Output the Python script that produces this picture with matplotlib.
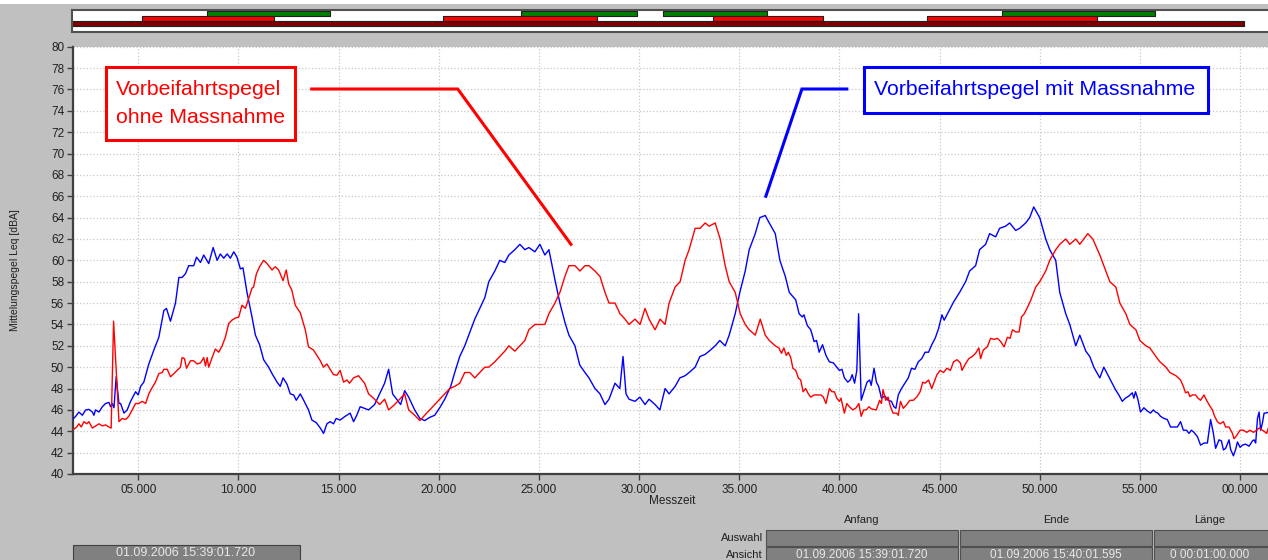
import numpy as np
import matplotlib.pyplot as plt
from matplotlib.patches import Rectangle

plt.rcParams['font.family'] = ['Liberation Sans', 'DejaVu Sans']

# Messzeit in Sekunden ab 15:39:00 und Pegel in dBA
t_mit = [1.72, 1.88, 2.04, 2.21, 2.38, 2.54, 2.71, 2.79, 2.87, 3.04, 3.21, 3.37, 3.54, 3.62, 3.70, 3.79,
         3.90, 4.04, 4.12, 4.29, 4.45, 4.62, 4.87, 5.00, 5.12, 5.28, 5.53, 5.78, 6.03, 6.28, 6.41, 6.61,
         6.86, 7.03, 7.19, 7.36, 7.52, 7.77, 7.91, 8.11, 8.27, 8.52, 8.74, 8.94, 9.10, 9.27, 9.44, 9.60,
         9.77, 9.93, 10.10, 10.23, 10.43, 10.68, 10.85, 11.06, 11.26, 11.51, 11.68, 11.93, 12.09, 12.23,
         12.43, 12.59, 12.76, 12.89, 13.09, 13.26, 13.50, 13.67, 13.89, 14.09, 14.25, 14.42, 14.58, 14.75,
         14.88, 15.08, 15.33, 15.58, 15.75, 15.91, 16.08, 16.5, 16.8, 17.05, 17.3, 17.5, 17.7, 17.9, 18.1,
         18.3, 18.5, 18.8, 19.06, 19.3, 19.55, 19.8, 20.05, 20.3, 20.6, 20.8, 21.05, 21.3, 21.6, 21.8,
         22.05, 22.3, 22.5, 22.8, 23.05, 23.3, 23.5, 23.8, 24.05, 24.3, 24.5, 24.8, 25.05, 25.3, 25.5,
         25.8, 26.05, 26.3, 26.5, 26.8, 27.04, 27.3, 27.5, 27.8, 28.05, 28.3, 28.5, 28.8, 29.04, 29.2,
         29.35, 29.5, 29.8, 30.04, 30.3, 30.5, 30.8, 31.04, 31.3, 31.5, 31.8, 32.04, 32.3, 32.5, 32.8,
         33.04, 33.3, 33.5, 33.8, 34.03, 34.3, 34.5, 34.8, 35.03, 35.3, 35.5, 35.8, 36.03, 36.3, 36.5,
         36.8, 37.03, 37.3, 37.5, 37.82, 37.99, 38.15, 38.23, 38.40, 38.57, 38.74, 38.86, 38.99, 39.16,
         39.33, 39.50, 39.70, 39.87, 40.00, 40.13, 40.25, 40.42, 40.54, 40.64, 40.76, 40.87, 40.96, 41.09,
         41.26, 41.38, 41.51, 41.59, 41.73, 41.85, 41.96, 42.10, 42.27, 42.43, 42.60, 42.72, 42.82, 42.94,
         43.10, 43.27, 43.44, 43.60, 43.77, 43.94, 44.11, 44.28, 44.45, 44.61, 44.78, 44.95, 45.12, 45.23,
         45.37, 45.54, 45.70, 46.0, 46.3, 46.5, 46.8, 47.0, 47.3, 47.5, 47.8, 48.0, 48.3, 48.5, 48.8,
         49.0, 49.3, 49.5, 49.7, 50.0, 50.3, 50.5, 50.8, 51.0, 51.3, 51.5, 51.8, 52.0, 52.3, 52.5, 52.7,
         53.0, 53.2, 53.53, 53.78, 53.95, 54.12, 54.28, 54.45, 54.62, 54.70, 54.78, 54.90, 55.03, 55.20,
         55.37, 55.53, 55.67, 55.78, 55.90, 56.03, 56.20, 56.37, 56.53, 56.70, 56.87, 57.03, 57.17, 57.33,
         57.45, 57.57, 57.70, 57.87, 58.03, 58.20, 58.37, 58.53, 58.67, 58.78, 58.95, 59.07, 59.17, 59.28,
         59.45, 59.53, 59.67, 59.78, 59.87, 60.00, 60.12, 60.28, 60.45, 60.62, 60.70, 60.78, 60.87, 60.95,
         61.03, 61.12, 61.20, 61.28, 61.43, 61.6]
pegel_mit = [45.1, 45.4, 45.8, 45.5, 46.0, 46.05, 45.8, 45.5, 46.0, 45.8, 46.3, 46.6, 46.7, 46.3, 46.6, 46.2,
             49.1, 46.6, 46.6, 45.7, 46.0, 46.8, 47.7, 47.4, 48.2, 48.6, 50.3, 51.6, 52.8, 55.3, 55.5, 54.3,
             56.0, 58.4, 58.4, 58.75, 59.5, 59.5, 60.3, 59.8, 60.5, 59.7, 61.2, 60.0, 60.6, 60.2, 60.6, 60.2,
             60.8, 60.3, 59.2, 59.3, 57.0, 54.7, 53.0, 52.1, 50.7, 50.0, 49.4, 48.6, 48.2, 49.0,
             48.4, 47.5, 47.4, 46.9, 47.5, 46.9, 46.0, 45.05, 44.8, 44.3, 43.8, 44.7, 44.9, 44.7,
             45.2, 45.05, 45.4, 45.7, 44.9, 45.5, 46.3, 46.0, 46.5, 47.5, 48.5, 49.8, 47.5, 47.0, 46.5,
             47.8, 47.2, 46.0, 45.2, 45.0, 45.3, 45.5, 46.2, 47.0, 48.2, 49.5, 51.0, 52.0, 53.5, 54.5,
             55.5, 56.5, 58.0, 59.0, 60.0, 59.8, 60.5, 61.0, 61.5, 61.0, 61.2, 60.8, 61.5, 60.5, 61.0,
             58.2, 56.0, 54.2, 53.0, 52.0, 50.2, 49.5, 49.0, 48.0, 47.5, 46.5, 47.0, 48.5, 48.0, 51.0,
             47.5, 47.0, 46.8, 47.2, 46.5, 47.0, 46.5, 46.0, 48.0, 47.5, 48.2, 49.0, 49.2, 49.5, 50.0,
             51.0, 51.2, 51.5, 52.0, 52.5, 52.0, 53.0, 55.0, 57.0, 59.0, 61.0, 62.5, 64.0, 64.2, 63.5,
             62.5, 60.0, 58.5, 57.0, 56.3, 55.0, 54.7, 54.9, 53.9, 53.5, 52.4, 52.5, 51.4, 52.1,
             51.1, 50.5, 50.4, 50.0, 49.7, 49.8, 49.0, 48.6, 48.8, 49.3, 48.5, 49.7, 55.0, 46.9,
             47.9, 48.6, 48.8, 48.3, 49.9, 48.6, 48.2, 47.1, 47.3, 46.9, 46.8, 46.3, 46.15, 47.4,
             48.0, 48.5, 49.0, 49.9, 49.8, 50.5, 50.8, 51.4, 51.4, 52.1, 52.7, 53.6, 54.9, 54.4,
             54.9, 55.5, 56.1, 57.0, 58.0, 59.0, 59.5, 61.0, 61.5, 62.5, 62.2, 63.0, 63.2, 63.5, 62.8,
             63.0, 63.5, 64.0, 65.0, 64.0, 62.0, 61.0, 60.0, 57.0, 55.0, 54.0, 52.0, 53.0, 51.5, 51.0, 50.0,
             49.0, 50.0, 48.8, 47.9, 47.4, 46.8, 47.1, 47.3, 47.6, 47.1, 47.7, 47.0, 45.8, 46.2,
             45.9, 45.7, 46.0, 45.8, 45.7, 45.4, 45.2, 45.1, 44.4, 44.4, 44.4, 44.9, 44.1, 44.1,
             43.8, 44.1, 43.9, 43.5, 42.7, 42.9, 42.9, 45.1, 43.8, 42.4, 43.2, 43.1, 42.25, 42.4,
             43.2, 42.3, 41.7, 42.3, 43.0, 42.5, 42.7, 42.8, 42.6, 43.1, 43.2, 42.9, 45.2, 45.8,
             44.1, 44.8, 45.7, 45.7, 45.8, 45.8]

t_ohne = [1.72, 1.93, 2.04, 2.16, 2.29, 2.43, 2.54, 2.71, 2.87, 3.04, 3.21, 3.37, 3.54, 3.65, 3.77, 4.04,
          4.20, 4.37, 4.53, 4.70, 4.87, 5.03, 5.20, 5.37, 5.53, 5.70, 5.86, 6.03, 6.20, 6.28, 6.45, 6.61,
          6.78, 6.94, 7.11, 7.19, 7.31, 7.41, 7.61, 7.77, 7.94, 8.11, 8.27, 8.36, 8.44, 8.52, 8.69, 8.85,
          9.02, 9.19, 9.35, 9.52, 9.68, 9.85, 10.02, 10.18, 10.35, 10.51, 10.68, 10.76, 10.90, 11.06, 11.26,
          11.43, 11.68, 11.84, 12.01, 12.23, 12.39, 12.51, 12.67, 12.84, 13.09, 13.34, 13.50, 13.75, 13.92,
          14.09, 14.25, 14.42, 14.58, 14.75, 14.92, 15.08, 15.25, 15.42, 15.55, 15.75, 16.0, 16.08, 16.3,
          16.5, 16.8, 17.05, 17.3, 17.5, 17.8, 18.05, 18.3, 18.5, 18.8, 19.06, 19.3, 19.55, 19.8, 20.05,
          20.3, 20.55, 20.8, 21.05, 21.3, 21.55, 21.8, 22.05, 22.3, 22.5, 22.8, 23.05, 23.3, 23.5, 23.8,
          24.05, 24.3, 24.5, 24.8, 25.05, 25.3, 25.5, 25.8, 26.05, 26.3, 26.5, 26.8, 27.05, 27.3, 27.5,
          27.8, 28.05, 28.3, 28.5, 28.8, 29.05, 29.3, 29.5, 29.8, 30.05, 30.3, 30.5, 30.8, 31.05, 31.3,
          31.5, 31.8, 32.05, 32.3, 32.5, 32.8, 33.05, 33.3, 33.5, 33.8, 34.05, 34.3, 34.5, 34.8, 35.05,
          35.3, 35.5, 35.8, 36.05, 36.3, 36.5, 36.8, 36.98, 37.11, 37.23, 37.35, 37.45, 37.57, 37.68, 37.82,
          37.95, 38.07, 38.19, 38.32, 38.45, 38.57, 38.74, 38.91, 39.08, 39.20, 39.33, 39.50, 39.63, 39.75,
          39.87, 40.00, 40.08, 40.25, 40.37, 40.50, 40.67, 40.84, 40.97, 41.09, 41.21, 41.34, 41.48, 41.59,
          41.84, 42.01, 42.10, 42.18, 42.31, 42.43, 42.55, 42.68, 42.85, 42.94, 43.05, 43.19, 43.36, 43.52,
          43.69, 43.86, 44.03, 44.16, 44.28, 44.45, 44.61, 44.73, 44.87, 45.03, 45.20, 45.37, 45.54, 45.70,
          45.87, 46.04, 46.12, 46.29, 46.46, 46.63, 46.80, 46.96, 47.05, 47.18, 47.38, 47.55, 47.72, 47.89,
          48.05, 48.22, 48.39, 48.52, 48.64, 48.81, 48.97, 49.09, 49.23, 49.40, 49.56, 49.8, 50.0, 50.3,
          50.5, 50.8, 51.0, 51.3, 51.5, 51.8, 52.0, 52.4, 52.65, 53.0, 53.2, 53.5, 53.8, 54.0, 54.3, 54.5,
          54.8, 55.0, 55.3, 55.5, 55.8, 56.0, 56.3, 56.5, 56.8, 57.03, 57.17, 57.28, 57.40, 57.50, 57.62,
          57.78, 57.90, 58.03, 58.20, 58.33, 58.45, 58.62, 58.73, 58.87, 59.00, 59.17, 59.28, 59.45, 59.62,
          59.70, 59.83, 60.00, 60.17, 60.33, 60.50, 60.67, 60.83, 60.95, 61.12, 61.20, 61.33, 61.43, 61.6]
pegel_ohne = [44.1, 44.4, 44.7, 44.4, 44.9, 44.7, 44.9, 44.3, 44.5, 44.7, 44.5, 44.6, 44.4, 44.3, 54.3, 44.9,
              45.2, 45.1, 45.4, 46.0, 46.6, 46.6, 46.8, 46.6, 47.5, 48.1, 48.6, 49.4, 49.5, 49.8, 49.8, 49.1,
              49.4, 49.7, 50.0, 50.9, 50.8, 49.9, 50.6, 50.6, 50.3, 50.4, 50.9, 50.1, 50.9, 50.0, 50.9, 51.7,
              51.4, 52.0, 52.8, 54.1, 54.4, 54.6, 54.7, 55.8, 55.5, 56.4, 57.4, 57.5, 58.75, 59.4, 60.0,
              59.7, 59.1, 59.4, 59.1, 58.1, 59.1, 57.8, 57.2, 55.8, 55.1, 53.5, 51.9, 51.6, 51.1,
              50.6, 50.0, 50.3, 49.8, 49.3, 49.25, 49.7, 48.6, 48.8, 48.5, 49.0, 49.2, 49.0, 48.5,
              47.5, 47.0, 46.5, 47.0, 46.0, 46.5, 47.0, 47.5, 46.0, 45.5, 45.0, 45.5, 46.0, 46.5, 47.0,
              47.5, 48.0, 48.2, 48.5, 49.5, 49.5, 49.0, 49.5, 50.0, 50.0, 50.5, 51.0, 51.5, 52.0, 51.5,
              52.0, 52.5, 53.5, 54.0, 54.0, 54.0, 55.0, 56.0, 57.0, 58.5, 59.5, 59.5, 59.0, 59.5, 59.5,
              59.0, 58.5, 57.0, 56.0, 56.0, 55.0, 54.5, 54.0, 54.5, 54.0, 55.5, 54.5, 53.5, 54.5, 54.0,
              56.0, 57.5, 58.0, 60.0, 61.0, 63.0, 63.0, 63.5, 63.2, 63.5, 62.0, 59.5, 58.0, 57.0, 55.0,
              54.0, 53.5, 53.0, 54.5, 53.0, 52.5, 52.0, 51.8, 51.3, 51.8, 51.1, 51.4, 50.9, 49.9, 49.7,
              49.0, 48.8, 47.7, 48.0, 47.5, 47.2, 47.4, 47.4, 47.4, 47.2, 46.6, 48.0, 47.7, 47.7,
              47.1, 46.8, 47.1, 45.7, 46.6, 46.3, 46.0, 46.2, 46.6, 45.4, 46.0, 46.0, 46.3, 46.1,
              46.0, 46.9, 46.6, 47.9, 46.9, 47.2, 46.3, 45.7, 45.7, 45.5, 46.8, 46.15, 46.5, 46.9,
              46.9, 47.2, 47.7, 48.6, 48.5, 48.8, 48.0, 48.6, 49.3, 49.7, 49.5, 49.9, 49.7, 50.5,
              50.7, 50.4, 49.7, 50.3, 50.8, 51.0, 51.3, 51.8, 50.8, 51.6, 51.9, 52.7, 52.6, 52.7,
              52.4, 51.9, 52.8, 52.7, 53.5, 53.3, 53.3, 54.7, 55.0, 55.65, 56.3, 57.5, 58.0, 59.0,
              60.0, 61.0, 61.5, 62.0, 61.5, 62.0, 61.5, 62.5, 62.0, 60.5, 59.5, 58.0, 57.5, 56.0, 55.0, 54.0,
              53.5, 52.5, 52.0, 51.8, 51.0, 50.5, 50.0, 49.5, 49.2, 48.8, 48.2, 47.6, 47.7, 47.25, 47.4,
              47.4, 47.1, 46.9, 47.4, 46.9, 46.5, 46.0, 45.4, 44.9, 44.7, 44.9, 44.4, 44.4, 43.8,
              43.3, 43.6, 44.1, 44.1, 43.9, 44.1, 43.9, 44.1, 44.3, 44.1, 44.0, 43.8, 44.4, 44.6]

# Zeitbalken oben (Start, Ende) in Sekunden
balken_gruen = [(8.47, 14.6), (24.1, 29.9), (31.2, 36.4), (48.1, 55.75)]
balken_rot = [(5.23, 11.8), (20.25, 27.9), (33.7, 39.2), (44.4, 52.85)]
balken_dunkelrot = [(1.72, 60.2)]

xtick_pos = [5, 10, 15, 20, 25, 30, 35, 40, 45, 50, 55, 60]
xtick_labels = ['%02d.000' % (s % 60) for s in xtick_pos]
ytick_pos = list(range(40, 81, 2))

t_start, t_end = 1.72, 61.595

W, H = 1268, 560
fig = plt.figure(figsize=(W / 100, H / 100), dpi=100, facecolor='#c0c0c0')


def fx(px):
    return px / W


def fy(py):
    return 1 - py / H


fig.patches.append(Rectangle((0, fy(4)), 1, 4 / H, transform=fig.transFigure,
                             facecolor='white', edgecolor='none'))

# Hauptdiagramm
ax = fig.add_axes([fx(72.5), fy(474), fx(1272 - 72.5), (474 - 46.7) / H])
ax.set_facecolor('white')
ax.plot(t_mit, pegel_mit, color='#0000ff', lw=1.0, zorder=3)
ax.plot(t_ohne, pegel_ohne, color='#ff0000', lw=1.0, zorder=3)
ax.set_xlim(t_start, t_end)
ax.set_ylim(40, 80)
ax.set_yticks(ytick_pos)
ax.set_xticks(xtick_pos)
ax.set_xticklabels(xtick_labels)
ax.grid(True, color='#c8c8c8', linestyle=':', lw=0.9, zorder=0)
ax.tick_params(labelsize=8.5, length=4, width=1, color='#404040', labelcolor='#202020', pad=2)
ax.tick_params(axis='x', pad=3)
for side in ['left', 'bottom']:
    ax.spines[side].set_color('#404040')
    ax.spines[side].set_linewidth(1.6)
ax.spines['top'].set_visible(False)
ax.spines['right'].set_visible(False)

# Beschriftungen mit Rahmen
ax.add_patch(Rectangle((3.38, 71.3), 12.82 - 3.38, 78.1 - 71.3, facecolor='white',
                       edgecolor='#ff0000', lw=2.2, zorder=5))
ax.text(3.88, 76.0, 'Vorbeifahrtspegel', color='#ff0000', fontsize=15.3,
        ha='left', va='center', zorder=6)
ax.text(3.88, 73.4, 'ohne Massnahme', color='#ff0000', fontsize=15.3,
        ha='left', va='center', zorder=6)
ax.plot([13.66, 20.95, 26.6], [76.04, 76.04, 61.5], color='#ff0000', lw=2.2, zorder=5,
        solid_joinstyle='miter')

ax.add_patch(Rectangle((41.22, 73.8), 58.4 - 41.22, 78.1 - 73.8, facecolor='white',
                       edgecolor='#0000ff', lw=2.2, zorder=5))
ax.text(41.72, 76.0, 'Vorbeifahrtspegel mit Massnahme', color='#0000ff', fontsize=15.3,
        ha='left', va='center', zorder=6)
ax.plot([40.37, 38.13, 36.33], [76.04, 76.04, 66.0], color='#0000ff', lw=2.2, zorder=5,
        solid_joinstyle='miter')

# Zeitbalken
axb = fig.add_axes([fx(72), fy(32), fx(1272 - 72), 22 / H])
axb.set_facecolor('white')
axb.set_xlim(t_start, t_end)
axb.set_ylim(22, 0)
axb.broken_barh([(a, b - a) for a, b in balken_gruen], (1, 4.7), facecolors='#008000',
                edgecolors='#202020', lw=0.8)
axb.broken_barh([(a, b - a) for a, b in balken_rot], (5.7, 5), facecolors='#ff0000',
                edgecolors='#202020', lw=0.8)
axb.broken_barh([(a, b - a) for a, b in balken_dunkelrot], (10.7, 5.3), facecolors='#800000',
                edgecolors='#202020', lw=0.8)
axb.set_xticks([])
axb.set_yticks([])
for side in ['top', 'bottom', 'left']:
    axb.spines[side].set_color('#505050')
    axb.spines[side].set_linewidth(1.5)
axb.spines['right'].set_visible(False)

fig.text(fx(15), fy(270), 'Mittelungspegel Leq [dBA]', rotation=90, fontsize=7.5,
         ha='center', va='center', color='#202020')
fig.text(fx(672), fy(501), 'Messzeit', fontsize=8.5, ha='center', va='center', color='#202020')

# Tabelle unten
kopf = ['Anfang', 'Ende', 'Länge']
spalten = [(766, 958), (960, 1152), (1154, 1290)]
ansicht = ['01.09.2006 15:39:01.720', '01.09.2006 15:40:01.595', '0 00:01:00.000']
for (x0, x1), name, wert in zip(spalten, kopf, ansicht):
    xm = (x0 + x1) / 2 if x1 < 1268 else 1210
    fig.text(fx(xm), fy(520), name, fontsize=8, ha='center', va='center', color='#202020')
    for y0, y1 in [(530, 546), (547, 565)]:
        fig.patches.append(Rectangle((fx(x0), fy(y1)), fx(x1 - x0), (y1 - y0) / H,
                                     transform=fig.transFigure, facecolor='#808080',
                                     edgecolor='#505050', lw=0.8))
    fig.text(fx(xm), fy(555), wert, fontsize=8.5, ha='center', va='center', color='#e8e8e8')
fig.text(fx(763), fy(538), 'Auswahl', fontsize=8, ha='right', va='center', color='#202020')
fig.text(fx(763), fy(555), 'Ansicht', fontsize=8, ha='right', va='center', color='#202020')

fig.patches.append(Rectangle((fx(72.5), fy(565)), fx(300 - 72.5), 20 / H,
                             transform=fig.transFigure, facecolor='#808080',
                             edgecolor='#404040', lw=0.8))
fig.text(fx(186), fy(553), '01.09.2006 15:39:01.720', fontsize=9, ha='center', va='center',
         color='#e8e8e8')

fig.savefig('out.png', dpi=100, facecolor=fig.get_facecolor())
